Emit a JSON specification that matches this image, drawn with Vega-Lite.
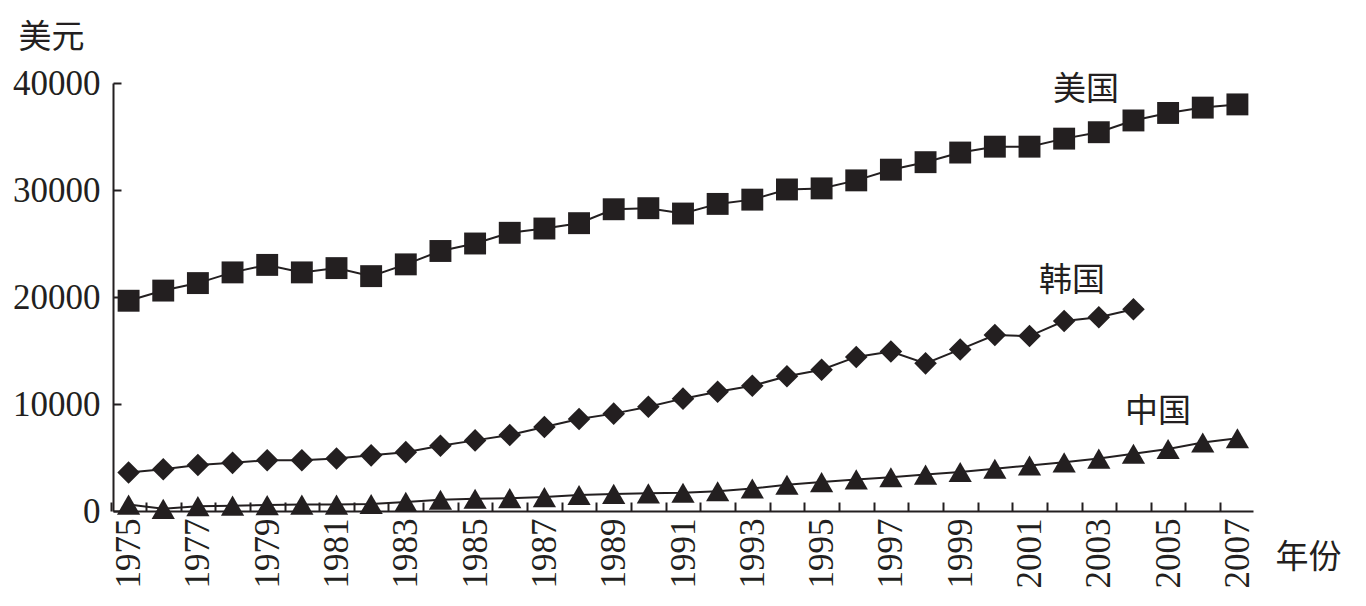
{
  "$schema": "https://vega.github.io/schema/vega-lite/v6.json",
  "autosize": {"type": "none"},
  "padding": {"left": 113, "top": 83, "right": 113, "bottom": 95},
  "width": 1140,
  "height": 428,
  "background": "white",
  "config": {
    "view": {"stroke": null},
    "axis": {
      "grid": false,
      "domainColor": "#231f20",
      "domainWidth": 2,
      "tickColor": "#231f20",
      "tickWidth": 2,
      "labelColor": "#231f20",
      "labelFont": "Liberation Serif",
      "labelFontSize": 35,
      "titleColor": "#231f20",
      "titleFont": "Noto Sans CJK SC",
      "titleFontSize": 33,
      "titleFontWeight": "normal"
    }
  },
  "datasets": {
    "series": [
      {"country": "美国", "year": 1975, "value": 19650},
      {"country": "美国", "year": 1976, "value": 20600},
      {"country": "美国", "year": 1977, "value": 21300},
      {"country": "美国", "year": 1978, "value": 22300},
      {"country": "美国", "year": 1979, "value": 23000},
      {"country": "美国", "year": 1980, "value": 22300},
      {"country": "美国", "year": 1981, "value": 22700},
      {"country": "美国", "year": 1982, "value": 21950},
      {"country": "美国", "year": 1983, "value": 23050},
      {"country": "美国", "year": 1984, "value": 24300},
      {"country": "美国", "year": 1985, "value": 25000},
      {"country": "美国", "year": 1986, "value": 26000},
      {"country": "美国", "year": 1987, "value": 26400},
      {"country": "美国", "year": 1988, "value": 26900},
      {"country": "美国", "year": 1989, "value": 28200},
      {"country": "美国", "year": 1990, "value": 28300},
      {"country": "美国", "year": 1991, "value": 27800},
      {"country": "美国", "year": 1992, "value": 28700},
      {"country": "美国", "year": 1993, "value": 29100},
      {"country": "美国", "year": 1994, "value": 30050},
      {"country": "美国", "year": 1995, "value": 30150},
      {"country": "美国", "year": 1996, "value": 30900},
      {"country": "美国", "year": 1997, "value": 31900},
      {"country": "美国", "year": 1998, "value": 32600},
      {"country": "美国", "year": 1999, "value": 33500},
      {"country": "美国", "year": 2000, "value": 34050},
      {"country": "美国", "year": 2001, "value": 34050},
      {"country": "美国", "year": 2002, "value": 34800},
      {"country": "美国", "year": 2003, "value": 35400},
      {"country": "美国", "year": 2004, "value": 36500},
      {"country": "美国", "year": 2005, "value": 37200},
      {"country": "美国", "year": 2006, "value": 37700},
      {"country": "美国", "year": 2007, "value": 38000},
      {"country": "韩国", "year": 1975, "value": 3600},
      {"country": "韩国", "year": 1976, "value": 3900},
      {"country": "韩国", "year": 1977, "value": 4300},
      {"country": "韩国", "year": 1978, "value": 4500},
      {"country": "韩国", "year": 1979, "value": 4750},
      {"country": "韩国", "year": 1980, "value": 4750},
      {"country": "韩国", "year": 1981, "value": 4900},
      {"country": "韩国", "year": 1982, "value": 5200},
      {"country": "韩国", "year": 1983, "value": 5500},
      {"country": "韩国", "year": 1984, "value": 6100},
      {"country": "韩国", "year": 1985, "value": 6600},
      {"country": "韩国", "year": 1986, "value": 7100},
      {"country": "韩国", "year": 1987, "value": 7850},
      {"country": "韩国", "year": 1988, "value": 8600},
      {"country": "韩国", "year": 1989, "value": 9100},
      {"country": "韩国", "year": 1990, "value": 9750},
      {"country": "韩国", "year": 1991, "value": 10500},
      {"country": "韩国", "year": 1992, "value": 11150},
      {"country": "韩国", "year": 1993, "value": 11700},
      {"country": "韩国", "year": 1994, "value": 12600},
      {"country": "韩国", "year": 1995, "value": 13200},
      {"country": "韩国", "year": 1996, "value": 14400},
      {"country": "韩国", "year": 1997, "value": 14900},
      {"country": "韩国", "year": 1998, "value": 13800},
      {"country": "韩国", "year": 1999, "value": 15100},
      {"country": "韩国", "year": 2000, "value": 16450},
      {"country": "韩国", "year": 2001, "value": 16350},
      {"country": "韩国", "year": 2002, "value": 17750},
      {"country": "韩国", "year": 2003, "value": 18100},
      {"country": "韩国", "year": 2004, "value": 18850},
      {"country": "中国", "year": 1975, "value": 600},
      {"country": "中国", "year": 1976, "value": 200},
      {"country": "中国", "year": 1977, "value": 450},
      {"country": "中国", "year": 1978, "value": 500},
      {"country": "中国", "year": 1979, "value": 550},
      {"country": "中国", "year": 1980, "value": 600},
      {"country": "中国", "year": 1981, "value": 600},
      {"country": "中国", "year": 1982, "value": 650},
      {"country": "中国", "year": 1983, "value": 850},
      {"country": "中国", "year": 1984, "value": 1050},
      {"country": "中国", "year": 1985, "value": 1150},
      {"country": "中国", "year": 1986, "value": 1200},
      {"country": "中国", "year": 1987, "value": 1300},
      {"country": "中国", "year": 1988, "value": 1500},
      {"country": "中国", "year": 1989, "value": 1600},
      {"country": "中国", "year": 1990, "value": 1650},
      {"country": "中国", "year": 1991, "value": 1700},
      {"country": "中国", "year": 1992, "value": 1850},
      {"country": "中国", "year": 1993, "value": 2100},
      {"country": "中国", "year": 1994, "value": 2450},
      {"country": "中国", "year": 1995, "value": 2700},
      {"country": "中国", "year": 1996, "value": 2950},
      {"country": "中国", "year": 1997, "value": 3150},
      {"country": "中国", "year": 1998, "value": 3400},
      {"country": "中国", "year": 1999, "value": 3650},
      {"country": "中国", "year": 2000, "value": 3950},
      {"country": "中国", "year": 2001, "value": 4250},
      {"country": "中国", "year": 2002, "value": 4550},
      {"country": "中国", "year": 2003, "value": 4900},
      {"country": "中国", "year": 2004, "value": 5350},
      {"country": "中国", "year": 2005, "value": 5800},
      {"country": "中国", "year": 2006, "value": 6400},
      {"country": "中国", "year": 2007, "value": 6800}
    ],
    "labels": [
      {"label": "美国", "year": 2002.63, "value": 39350},
      {"label": "韩国", "year": 2002.23, "value": 21500},
      {"label": "中国", "year": 2004.71, "value": 9250}
    ]
  },
  "encoding": {
    "x": {
      "field": "year",
      "type": "quantitative",
      "scale": {"domain": [1974.55, 2007.45], "zero": false, "nice": false},
      "axis": {
        "values": [1975,1976,1977,1978,1979,1980,1981,1982,1983,1984,1985,1986,1987,1988,1989,1990,1991,1992,1993,1994,1995,1996,1997,1998,1999,2000,2001,2002,2003,2004,2005,2006,2007,2008],
        "format": "d",
        "labelExpr": "(datum.value % 2 == 1 && datum.value < 2008) ? datum.label : ''",
        "labelAngle": -90,
        "labelFlush": false,
        "labelOverlap": false,
        "tickOffset": -17.3,
        "labelOffset": 17.3,
        "tickSize": -9,
        "labelPadding": 16,
        "title": "年份",
        "titleAngle": 0,
        "titleAlign": "left",
        "titleBaseline": "middle",
        "titleX": 1162,
        "titleY": 46
      }
    },
    "y": {
      "field": "value",
      "type": "quantitative",
      "scale": {"domain": [0, 40000], "nice": false},
      "axis": {
        "values": [0, 10000, 20000, 30000, 40000],
        "format": "d",
        "tickSize": -8,
        "labelPadding": 21,
        "title": "美元",
        "titleAngle": 0,
        "titleAlign": "left",
        "titleBaseline": "middle",
        "titleX": -95,
        "titleY": -46
      }
    }
  },
  "layer": [
    {
      "data": {"name": "series"},
      "mark": {"type": "line", "color": "#231f20", "strokeWidth": 2},
      "encoding": {"detail": {"field": "country"}}
    },
    {
      "data": {"name": "series"},
      "mark": {"type": "point", "filled": true, "opacity": 1, "color": "#231f20"},
      "encoding": {
        "shape": {
          "field": "country",
          "type": "nominal",
          "scale": {"domain": ["美国", "韩国", "中国"], "range": ["square", "diamond", "triangle-up"]},
          "legend": null
        },
        "size": {
          "field": "country",
          "type": "nominal",
          "scale": {"domain": ["美国", "韩国", "中国"], "range": [480, 540, 600]},
          "legend": null
        }
      }
    },
    {
      "data": {"name": "labels"},
      "mark": {"type": "text", "font": "Noto Sans CJK SC", "fontSize": 33, "color": "#231f20", "align": "center", "baseline": "middle"},
      "encoding": {"text": {"field": "label"}}
    }
  ]
}
